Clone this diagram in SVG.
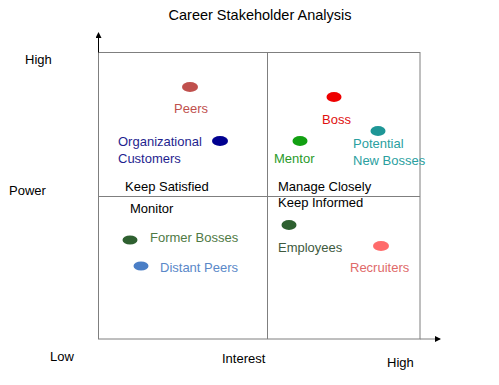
<svg xmlns="http://www.w3.org/2000/svg" width="499" height="385" viewBox="0 0 499 385">
<defs>
<marker id="ah" markerWidth="6" markerHeight="6" refX="5" refY="3" orient="auto" markerUnits="userSpaceOnUse">
<path d="M0,0 L6,3 L0,6 z" fill="#000"/>
</marker>
<style>
text{font-family:"Liberation Sans",Arial,sans-serif;font-size:13px;fill:#000}
.t{font-size:14.5px}
.ln{stroke:#7f7f7f;stroke-width:1;fill:none}
</style>
</defs>
<rect width="499" height="385" fill="#fff"/>
<text class="t" x="260" y="20" text-anchor="middle">Career Stakeholder Analysis</text>
<g id="connectors">
<rect class="ln" x="98.5" y="52.5" width="321.5" height="286.5"/>
<line class="ln" x1="267.5" y1="52.5" x2="267.5" y2="339"/>
<line class="ln" x1="98.5" y1="196.5" x2="420" y2="196.5"/>
<line x1="98.5" y1="52.5" x2="98.5" y2="33" stroke="#000" stroke-width="1" marker-end="url(#ah)"/>
<line x1="420" y1="339" x2="440" y2="339" stroke="#7f7f7f" stroke-width="1" marker-end="url(#ah)"/>
</g>
<g id="axis-labels">
<text x="25" y="64">High</text>
<text x="9" y="195">Power</text>
<text x="50" y="361">Low</text>
<text x="222" y="363">Interest</text>
<text x="387" y="367">High</text>
</g>
<g id="quadrant-labels">
<text x="125" y="191">Keep Satisfied</text>
<text x="130" y="213">Monitor</text>
<text x="278" y="191">Manage Closely</text>
<text x="278" y="207">Keep Informed</text>
</g>
<g id="peers"><ellipse cx="190" cy="87" rx="8" ry="5" fill="#c0504d"/><text x="174" y="113" fill="#c0504d" style="fill:#c0504d">Peers</text></g>
<g id="org-customers"><ellipse cx="220" cy="141" rx="8" ry="5" fill="#000090"/><text x="118" y="146" style="fill:#1f1f8f">Organizational</text><text x="118" y="163" style="fill:#1f1f8f">Customers</text></g>
<g id="boss"><ellipse cx="334" cy="97" rx="7.5" ry="5" fill="#ee0000"/><text x="322" y="124" style="fill:#e01010">Boss</text></g>
<g id="mentor"><ellipse cx="300" cy="141" rx="7.5" ry="5" fill="#12a012"/><text x="274" y="163" style="fill:#2a9a2a">Mentor</text></g>
<g id="potential-new-bosses"><ellipse cx="378" cy="131" rx="7.5" ry="5" fill="#1e9696"/><text x="353" y="148" style="fill:#2aa0a0">Potential</text><text x="353" y="165" style="fill:#2aa0a0">New Bosses</text></g>
<g id="former-bosses"><ellipse cx="130" cy="240" rx="7.5" ry="4.5" fill="#2e6030"/><text x="150" y="242" style="fill:#4f7a45">Former Bosses</text></g>
<g id="distant-peers"><ellipse cx="141" cy="266" rx="7.5" ry="4.5" fill="#4a7ec6"/><text x="160" y="272" style="fill:#5a88c8">Distant Peers</text></g>
<g id="employees"><ellipse cx="289" cy="225" rx="7.5" ry="5" fill="#2e6030"/><text x="278" y="252" style="fill:#3e5a3e">Employees</text></g>
<g id="recruiters"><ellipse cx="381" cy="246" rx="8" ry="5" fill="#ff6b6b"/><text x="350" y="272" style="fill:#e06a6a">Recruiters</text></g>
</svg>
